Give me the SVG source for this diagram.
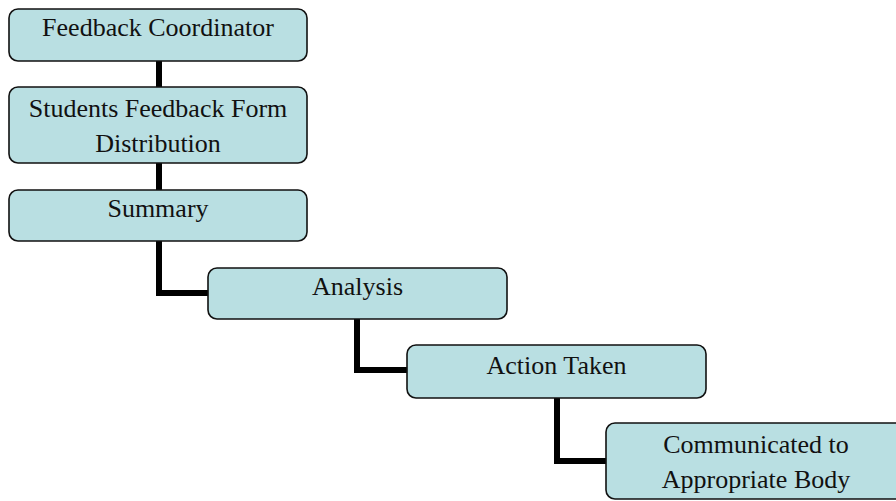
<svg xmlns="http://www.w3.org/2000/svg" width="896" height="501" viewBox="0 0 896 501">
<style>
.box{fill:#b9dfe2;stroke:#111;stroke-width:1.6}
.t{font-family:"Liberation Serif","Times New Roman",serif;font-size:26px;fill:#111;text-anchor:middle}
.c{fill:none;stroke:#000;stroke-width:6;stroke-linejoin:miter}
</style>
<rect width="896" height="501" fill="#fff"/>
<g id="connectors">
<path class="c" d="M159 61V87"/>
<path class="c" d="M159 163V190"/>
<path class="c" d="M159 241V293H208"/>
<path class="c" d="M357 319V370H407"/>
<path class="c" d="M557 398V461H606"/>
</g>
<g id="n1"><rect class="box" x="9" y="9" width="298" height="52" rx="9"/><text class="t" x="158" y="36">Feedback Coordinator</text></g>
<g id="n2"><rect class="box" x="9" y="87" width="298" height="76" rx="9"/><text class="t" x="158" y="117">Students Feedback Form</text><text class="t" x="158" y="152">Distribution</text></g>
<g id="n3"><rect class="box" x="9" y="190" width="298" height="51" rx="9"/><text class="t" x="158" y="217">Summary</text></g>
<g id="n4"><rect class="box" x="208" y="268" width="299" height="51" rx="9"/><text class="t" x="357.5" y="295">Analysis</text></g>
<g id="n5"><rect class="box" x="407" y="345" width="299" height="53" rx="9"/><text class="t" x="556.5" y="374">Action Taken</text></g>
<g id="n6"><rect class="box" x="606" y="423" width="300" height="76" rx="9"/><text class="t" x="756" y="453">Communicated to</text><text class="t" x="756" y="488">Appropriate Body</text></g>
</svg>
